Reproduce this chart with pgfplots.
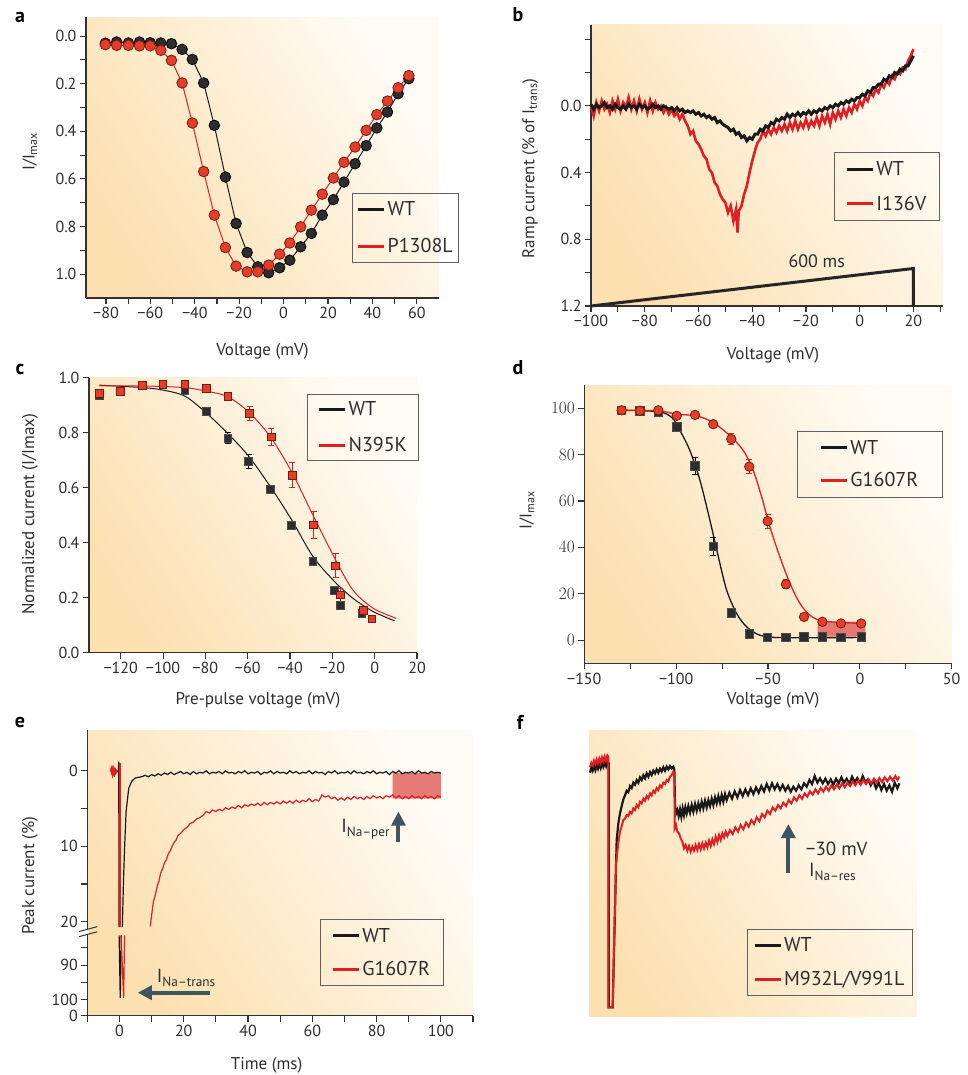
\documentclass[border=0pt]{standalone}
\usepackage{fontspec}
\setmainfont{PT Sans}
\usepackage{pgfplots}
\pgfplotsset{compat=1.18}
\usetikzlibrary{arrows.meta}
\definecolor{bgor}{RGB}{252,224,176}
\definecolor{bgwhite}{RGB}{255,252,246}
\definecolor{axcol}{RGB}{50,50,50}
\definecolor{txtcol}{RGB}{45,45,45}
\definecolor{wtred}{RGB}{224,30,36}
\definecolor{wtblack}{RGB}{25,25,25}
\definecolor{arrowcol}{RGB}{62,84,96}
\definecolor{dotred}{RGB}{228,62,42}
\definecolor{dotredline}{RGB}{120,25,15}
\definecolor{dotblack}{RGB}{45,45,45}
\definecolor{boxred}{RGB}{226,100,96}

\pgfplotsset{
  panel/.style={
    scale only axis, clip=false, anchor=south west,
    axis x line*=bottom, axis y line*=left,
    axis line style={line width=1.1pt, axcol, -},
    tick style={line width=1.1pt, axcol},
    tick align=outside, major tick length=6pt, minor tick length=6pt,
    tick label style={font=\fontsize{16}{18}\selectfont, txtcol},
    label style={font=\fontsize{17}{20}\selectfont, txtcol},
    xlabel style={anchor=center}, ylabel style={anchor=center},
    axis background/.style={shade, top color=bgwhite, bottom color=bgor, shading angle=-58},
    legend style={draw=gray!75!black, line width=0.9pt, fill=none,
      font=\fontsize{20}{24}\selectfont, text=txtcol,
      inner xsep=4pt, inner ysep=6.5pt, row sep=15pt, cells={anchor=west}},
    legend image code/.code={\draw[#1, line width=3pt] (0pt,0pt) -- (26pt,0pt);},
  },
  ebars/.style={error bars/.cd, y dir=both, y explicit,
    error bar style={line width=1pt, #1},
    error mark options={rotate=90, mark size=3pt, line width=1pt, #1}},
}

\begin{document}
\begin{tikzpicture}
\path[use as bounding box] (0pt,0pt) rectangle (968pt,-1075pt);

% panel letters
\begin{scope}[font=\bfseries\fontsize{20}{22}\selectfont]
\node at (20pt,-17pt) {a};
\node at (518pt,-15pt) {b};
\node at (20pt,-369pt) {c};
\node at (518pt,-368pt) {d};
\node at (20pt,-722pt) {e};
\node at (520pt,-722pt) {f};
\end{scope}

% ---------------- a
\begin{axis}[panel, at={(86pt,-298pt)}, width=353pt, height=281pt,
  xmin=-89, xmax=70, ymin=-0.08, ymax=1.1, y dir=reverse,
  xtick={-80,-60,-40,-20,0,20,40,60}, xticklabels={−80,−60,−40,−20,0,20,40,60},
  minor x tick num=1,
  ytick={0,0.2,0.4,0.6,0.8,1}, yticklabels={0.0,0.2,0.4,0.6,0.8,1.0},
  minor y tick num=1,
  ylabel={I/I\textsubscript{max}}, ylabel style={at={(axis description cs:-0.159,0.52)}},
  xlabel={Voltage (mV)}, xlabel style={at={(axis description cs:0.5,-0.19)}},
  legend style={at={(axis description cs:0.754,0.374)}, anchor=north west,
    row sep=17pt, inner ysep=6.6pt}]
\addplot[forget plot, wtblack, line width=1pt, mark=*, mark size=5.3pt,
  mark options={fill=dotblack, draw=black, line width=0.8pt}] coordinates {
(-80.3,0.030) (-75.2,0.025) (-69.9,0.029) (-64.9,0.025) (-60.1,0.028) (-55.3,0.029)
(-50.5,0.032) (-45.7,0.056) (-41.1,0.098) (-36.0,0.197) (-31.2,0.375) (-26.2,0.592)
(-21.4,0.787) (-16.4,0.909) (-11.6,0.969) (-6.7,0.994) (-1.8,0.973) (2.8,0.941)
(7.7,0.885) (12.5,0.829) (17.4,0.752) (22.4,0.687) (27.2,0.613) (32.2,0.536)
(37.2,0.460) (42.0,0.386) (46.8,0.319) (51.6,0.242) (56.4,0.179)};
\addplot[forget plot, wtred, line width=1pt, mark=*, mark size=5.3pt,
  mark options={fill=dotred, draw=dotredline, line width=0.8pt}] coordinates {
(-80.3,0.036) (-75.2,0.039) (-69.9,0.039) (-64.9,0.041) (-60.1,0.041) (-55.3,0.060)
(-50.5,0.102) (-45.7,0.197) (-41.1,0.365) (-36.0,0.569) (-31.2,0.752) (-26.2,0.888)
(-21.4,0.966) (-16.4,0.990) (-11.6,0.990) (-6.7,0.962) (-1.8,0.916) (2.8,0.869)
(7.7,0.801) (12.5,0.731) (17.4,0.664) (22.4,0.596) (27.2,0.530) (32.2,0.466)
(37.2,0.396) (42.0,0.330) (46.8,0.273) (51.6,0.217) (56.4,0.166)};
\addlegendimage{wtblack}\addlegendentry{WT}
\addlegendimage{wtred}\addlegendentry{P1308L}
\end{axis}

% ---------------- b
\begin{axis}[panel, at={(591pt,-306pt)}, width=352pt, height=281pt,
  xmin=-100, xmax=31, ymin=-0.485, ymax=1.2, y dir=reverse,
  xtick={-100,-90,...,30}, xticklabels={−100,,−80,,−60,,−40,,−20,,0,,20,},
  ytick={-0.4,-0.2,0,0.2,0.4,0.6,0.8,1.0,1.2}, yticklabels={,,0.0,,0.4,,0.8,,1.2},
  ylabel={Ramp current (\% of I\textsubscript{trans})},
  ylabel style={at={(axis description cs:-0.173,0.49)}},
  xlabel={Voltage (mV)}, xlabel style={at={(axis description cs:0.517,-0.174)}},
  legend style={at={(axis description cs:0.690,0.548)}, anchor=north west,
    inner xsep=11pt, row sep=15pt, inner ysep=7pt}]
\addplot[forget plot, wtred, line width=2.6pt] coordinates {
(-100,0.0) (-99,0.06) (-98,-0.02) (-97,0.03) (-96,-0.03) (-95,0.02) (-94,-0.01) (-93,0.04)
(-92,-0.03) (-91,0.02) (-90,-0.04) (-89,0.03) (-88,-0.02) (-87,0.01) (-86,-0.05) (-85,0.02)
(-84,-0.03) (-83,0.03) (-82,-0.04) (-81,0.02) (-80,-0.02) (-79,0.04) (-78,-0.03) (-77,0.03)
(-76,-0.02) (-75,0.02) (-74,0.0) (-73,0.04) (-72,0.01) (-71,0.05) (-70,0.02) (-69,0.06)
(-68,0.04) (-67,0.08) (-66,0.05) (-65,0.09) (-64,0.12) (-63,0.17) (-62,0.15) (-61,0.21)
(-60,0.23) (-59,0.26) (-58,0.30) (-57,0.32) (-56,0.38) (-55,0.40) (-54,0.46) (-53,0.48)
(-52,0.53) (-51,0.56) (-50,0.58) (-49,0.64) (-48,0.60) (-47,0.69) (-46,0.62) (-45.5,0.76)
(-45,0.63) (-44,0.60) (-43,0.53) (-42,0.48) (-41,0.40) (-40,0.33) (-39,0.27) (-38,0.22)
(-37,0.20) (-36,0.15) (-35,0.18) (-34,0.14) (-33,0.17) (-32,0.13) (-31,0.16) (-30,0.12)
(-29,0.15) (-28,0.11) (-27,0.15) (-26,0.10) (-25,0.14) (-24,0.09) (-23,0.14) (-22,0.10)
(-21,0.13) (-20,0.08) (-19,0.13) (-18,0.09) (-17,0.12) (-16,0.07) (-15,0.12) (-14,0.06)
(-13,0.10) (-12,0.05) (-11,0.11) (-10,0.04) (-9,0.08) (-8,0.03) (-7,0.07) (-6,0.02)
(-5,0.06) (-4,0.01) (-3,0.04) (-2,-0.01) (-1,0.02) (0,-0.03) (1,0.0) (2,-0.05)
(3,-0.03) (4,-0.08) (5,-0.06) (6,-0.10) (7,-0.08) (8,-0.13) (9,-0.11) (10,-0.15)
(11,-0.13) (12,-0.18) (13,-0.16) (14,-0.20) (15,-0.19) (16,-0.23) (17,-0.22) (18,-0.27)
(19,-0.30) (20,-0.34)};
\addplot[forget plot, wtblack, line width=3pt] coordinates {
(-100,-0.01) (-99,0.02) (-98,-0.01) (-97,0.01) (-96,0.0) (-95,-0.02) (-94,0.01) (-93,0.0)
(-92,0.02) (-91,-0.01) (-90,0.01) (-89,0.02) (-88,0.0) (-87,0.02) (-86,-0.01) (-85,0.01)
(-84,0.0) (-83,0.02) (-82,-0.01) (-81,0.01) (-80,0.0) (-79,0.02) (-78,0.01) (-77,-0.01)
(-76,0.01) (-75,0.0) (-74,0.02) (-73,0.0) (-72,0.01) (-71,0.02) (-70,0.01) (-69,0.03)
(-68,0.01) (-67,0.03) (-66,0.02) (-65,0.04) (-64,0.03) (-63,0.04) (-62,0.03) (-61,0.05)
(-60,0.04) (-59,0.06) (-58,0.05) (-57,0.07) (-56,0.06) (-55,0.08) (-54,0.07) (-53,0.10)
(-52,0.09) (-51,0.11) (-50,0.12) (-49,0.13) (-48,0.15) (-47,0.14) (-46,0.17) (-45,0.16)
(-44,0.19) (-43,0.18) (-42,0.21) (-41,0.19) (-40,0.20) (-39,0.17) (-38,0.17) (-37,0.14)
(-36,0.15) (-35,0.12) (-34,0.13) (-33,0.10) (-32,0.11) (-31,0.08) (-30,0.09) (-29,0.07)
(-28,0.08) (-27,0.05) (-26,0.07) (-25,0.05) (-24,0.06) (-23,0.04) (-22,0.06) (-21,0.04)
(-20,0.05) (-19,0.03) (-18,0.05) (-17,0.03) (-16,0.04) (-15,0.02) (-14,0.03) (-13,0.01)
(-12,0.02) (-11,0.0) (-10,0.01) (-9,-0.01) (-8,0.0) (-7,-0.02) (-6,-0.01) (-5,-0.03)
(-4,-0.02) (-3,-0.04) (-2,-0.03) (-1,-0.05) (0,-0.05) (1,-0.07) (2,-0.06) (3,-0.09)
(4,-0.08) (5,-0.11) (6,-0.11) (7,-0.13) (8,-0.13) (9,-0.16) (10,-0.15) (11,-0.18)
(12,-0.17) (13,-0.20) (14,-0.19) (15,-0.22) (16,-0.21) (17,-0.24) (18,-0.24) (19,-0.27)
(20,-0.30)};
\addplot[forget plot, black!85, line width=3pt] coordinates {(-100,1.2) (20,0.975) (20,1.2)};
\node[anchor=south, font=\fontsize{18}{20}\selectfont, txtcol] at (axis cs:-16,0.99) {600 ms};
\addlegendimage{wtblack}\addlegendentry{WT}
\addlegendimage{wtred}\addlegendentry{I136V}
\end{axis}

% ---------------- c
\begin{axis}[panel, at={(89pt,-652.7pt)}, width=328pt, height=275pt,
  xmin=-135, xmax=20, ymin=0, ymax=1,
  xtick={-120,-100,-80,-60,-40,-20,0,20}, xticklabels={−120,−100,−80,−60,−40,−20,0,20},
  ytick={0,0.2,0.4,0.6,0.8,1}, yticklabels={0.0,0.2,0.4,0.6,0.8,1.0},
  ylabel={Normalized current (I/Imax)}, ylabel style={at={(axis description cs:-0.18,0.504)}},
  xlabel={Pre-pulse voltage (mV)}, xlabel style={at={(axis description cs:0.515,-0.172)}},
  legend style={at={(axis description cs:0.665,0.941)}, anchor=north west,
    inner xsep=10pt, row sep=16pt, inner ysep=5.4pt}]
\addplot[forget plot, wtblack, line width=1pt, smooth] coordinates {
(-130.1,0.973) (-109.6,0.964) (-100.1,0.955) (-89.7,0.933) (-79.6,0.872) (-69.4,0.797)
(-59.5,0.714) (-49.4,0.605) (-39.3,0.484) (-29.2,0.350) (-19.0,0.259) (-10.3,0.198)
(-0.8,0.150) (9.4,0.116)};
\addplot[forget plot, wtred, line width=1pt, smooth] coordinates {
(-130.1,0.970) (-109.6,0.970) (-89.7,0.964) (-79.6,0.951) (-69.4,0.931) (-59.1,0.872)
(-48.9,0.781) (-39.0,0.654) (-28.9,0.496) (-18.5,0.338) (-10.3,0.228) (-0.8,0.162)
(10.2,0.125)};
\addplot[forget plot, only marks, mark=square*, mark size=3.9pt,
  mark options={fill=dotblack, draw=gray!60!black, line width=0.8pt},
  ebars=black] coordinates {
(-130.1,0.936) (-120,0.951) (-109.6,0.972) (-100.1,0.976) (-89.7,0.955) (-79.6,0.878)
(-69.4,0.779) +- (0,0.02) (-59.5,0.696) +- (0,0.025) (-49.4,0.593) (-39.3,0.462) +- (0,0.015)
(-29.2,0.332) (-19.0,0.228) (-16.3,0.171) (-6.0,0.143) (-1.3,0.123)};
\addplot[forget plot, only marks, mark=square*, mark size=3.9pt,
  mark options={fill=dotred, draw=dotredline, line width=0.8pt},
  ebars=wtred] coordinates {
(-130.1,0.943) (-120,0.951) (-109.6,0.972) (-100.1,0.976) (-89.7,0.976) (-79.6,0.960)
(-69.4,0.931) (-59.1,0.870) +- (0,0.025) (-48.9,0.785) +- (0,0.03) (-39.0,0.645) +- (0,0.045)
(-28.9,0.465) +- (0,0.05) (-18.5,0.316) +- (0,0.043) (-16.3,0.210) +- (0,0.025)
(-5.5,0.153) +- (0,0.01) (-1.3,0.123)};
\addlegendimage{wtblack}\addlegendentry{WT}
\addlegendimage{wtred}\addlegendentry{N395K}
\end{axis}

% ---------------- d
\begin{axis}[panel, at={(584.3pt,-663.3pt)}, width=367.4pt, height=278.3pt,
  xmin=-150, xmax=50, ymin=-10, ymax=110,
  xtick={-150,-125,...,50}, xticklabels={−150,,−100,,−50,,0,,50},
  ytick={0,20,...,100},
  ylabel={I/I\textsubscript{max}}, ylabel style={at={(axis description cs:-0.156,0.55)}},
  xlabel={Voltage (mV)}, xlabel style={at={(axis description cs:0.514,-0.132)}},
  legend style={at={(axis description cs:0.579,0.835)}, anchor=north west,
    inner xsep=22pt, row sep=13pt, inner ysep=6.8pt}]
\addplot[forget plot, fill=boxred, fill opacity=0.85, draw=none] coordinates {
(-23,1.5) (3,1.5) (3,8) (-23,8) (-23,1.5)};
\addplot[forget plot, wtblack, line width=1.3pt, smooth] coordinates {
(-129.7,99.1) (-109.7,98.5) (-102.4,96.0) (-97.9,90.3) (-92.5,81.7) (-87.0,68.8)
(-81.6,51.6) (-77.0,35.8) (-72.5,21.5) (-67.1,11.5) (-61.6,5.7) (-54.4,2.1)
(-43.5,1.1) (0.7,1.1)};
\addplot[forget plot, wtred, line width=1.3pt, smooth] coordinates {
(-129.7,99.1) (-109.7,98.9) (-99.7,97.4) (-88.8,96.7) (-79.8,93.8) (-70.7,88.1)
(-63.4,81.7) (-58.0,73.1) (-53.4,61.6) (-48.9,48.7) (-43.5,35.8) (-38.0,24.4)
(-32.6,15.8) (-27.1,10.7) (-19.9,8.2) (0.7,7.2)};
\addplot[forget plot, only marks, mark=square*, mark size=4.2pt,
  mark options={fill=dotblack, draw=gray!60!black, line width=0.8pt},
  ebars=black] coordinates {
(-129.7,99.1) (-119.7,98.9) (-109.7,98.1) (-99.7,92.0) (-89.7,75.2) +- (0,3.6)
(-79.8,40.4) +- (0,3.7) (-70.0,11.7) (-60.2,2.6) (-50.2,1.1) (-40.2,1.1) (-30.4,1.4)
(-20.4,1.4) (-10.3,1.1) (0.7,1.4)};
\addplot[forget plot, only marks, mark=*, mark size=4.7pt,
  mark options={fill=dotred, draw=dotredline, line width=0.8pt},
  ebars=wtred] coordinates {
(-129.7,99.1) (-119.7,98.9) (-109.7,99.1) (-99.7,96.7) (-89.7,97.1) (-79.8,93.1)
(-70.0,86.7) +- (0,2.5) (-60.2,74.8) +- (0,3) (-50.2,51.3) +- (0,3) (-40.2,24.1) +- (0,2)
(-30.4,10.0) (-20.4,7.9) (-10.3,7.2) (0.7,7.2)};
\addlegendimage{wtblack}\addlegendentry{WT}
\addlegendimage{wtred}\addlegendentry{G1607R}
\end{axis}

% ---------------- e
\begin{axis}[panel, at={(87.3pt,-1015.7pt)}, width=385.7pt, height=285.7pt,
  xmin=-10, xmax=110, ymin=-5.4, ymax=32.45, y dir=reverse,
  xtick={-10,0,...,110}, xticklabels={,0,,20,,40,,60,,80,,100,},
  ytick={0,5,10,15,20,23.46,25.74,28.02,30.29,32.45},
  yticklabels={0,,10,,20,,90,,100,0},
  ylabel={Peak current (\%)}, ylabel style={at={(axis description cs:-0.149,0.49)}},
  xlabel={Time (ms)}, xlabel style={at={(axis description cs:0.465,-0.173)}},
  legend style={at={(axis description cs:0.603,0.338)}, anchor=north west,
    inner xsep=11pt, row sep=14pt, inner ysep=6.4pt}]
\addplot[forget plot, fill=boxred, fill opacity=0.85, draw=none] coordinates {
(85,0.3) (100,0.3) (100,3.7) (85,3.7) (85,0.3)};
% WT
\addplot[forget plot, wtblack, line width=1.2pt] coordinates {
(-2.6,0.0) (-2.3,0.4) (-2.0,-0.2) (-1.7,0.3) (-1.4,-0.1) (-1.1,0.3) (-0.8,0.0)
(-0.3,0.2) (-0.2,-1.2) (-0.15,20.7)};
\addplot[forget plot, wtblack, line width=1.2pt] coordinates {
(-0.1,21.8) (0.25,30.1) (0.6,21.8)};
\addplot[forget plot, wtblack, line width=1.2pt] coordinates {
(0.9,20.7) (1.3,14) (1.64,9.8) (2.07,5.4) (2.9,2.3) (3.9,1.35) (4.9,0.96) (7,0.78)
(8,0.6) (9,0.8) (10,0.5) (11,0.7) (12,0.4) (13,0.6) (14,0.3) (15,0.5) (16,0.2) (17,0.5)
(18,0.3) (19,0.1) (20,0.4) (21,0.2) (22,0.5) (23,0.1) (24,0.4) (25,0.2) (26,0.3) (27,0.0)
(28,0.4) (29,0.2) (30,0.3) (31,0.1) (32,0.4) (33,0.0) (34,0.3) (35,0.2) (36,0.4) (37,0.1)
(38,0.3) (39,0.0) (40,0.4) (41,0.2) (42,0.3) (43,0.1) (44,0.5) (45,0.2) (46,0.3) (47,0.0)
(48,0.4) (49,0.1) (50,0.3) (51,0.2) (52,0.4) (53,0.0) (54,0.3) (55,0.1) (56,0.4) (57,0.2)
(58,0.3) (59,0.0) (60,0.4) (61,0.1) (62,0.3) (63,0.2) (64,0.5) (65,0.1) (66,0.3) (67,0.0)
(68,0.4) (69,0.2) (70,0.3) (71,0.1) (72,0.4) (73,0.0) (74,0.3) (75,0.2) (76,0.4) (77,0.1)
(78,0.3) (79,0.0) (80,0.4) (81,0.2) (82,0.3) (83,0.1) (84,0.5) (85,0.1) (86,0.3) (87,0.0)
(88,0.4) (89,0.2) (90,0.3) (91,0.1) (92,0.4) (93,0.0) (94,0.3) (95,0.2) (96,0.4) (97,0.1)
(98,0.3) (99,0.2) (100,0.3)};
% G1607R
\addplot[forget plot, wtred, line width=3pt] coordinates {
(-2.7,0.1) (-2.4,-0.2) (-2.1,0.3) (-1.8,-0.1) (-1.5,0.3) (-1.2,0.0) (-0.9,0.2)};
\addplot[forget plot, wtred, line width=1.2pt] coordinates {
(0.2,-1.0) (0.2,20.7)};
\addplot[forget plot, wtred, line width=1.2pt] coordinates {
(0.5,21.8) (1.3,30.1) (1.6,21.8)};
\addplot[forget plot, wtred, line width=1.2pt] coordinates {
(9.6,20.6) (10.2,18.5) (10.6,17.3) (11.2,16.4) (11.8,15.2) (12.3,14.6) (12.8,13.6)
(13.4,13.0) (14.0,12.2) (14.6,11.8) (15.2,11.0) (15.8,10.6) (16.4,10.0) (17.0,9.5)
(17.6,9.2) (18.2,8.6) (19,8.3) (20,7.8) (21,7.5) (22,7.0) (23,6.8) (24,6.4) (25,6.2)
(26,5.9) (27,5.4) (28,5.6) (29,5.2) (30,5.4) (31,5.1) (32,5.3) (33,4.9) (34,5.1)
(35,4.8) (36,5.0) (37,4.6) (38,4.9) (39,4.5) (40,4.7) (41,4.4) (42,4.6) (43,4.3)
(44,4.6) (45,4.2) (46,4.5) (47,4.2) (48,4.4) (49,4.1) (50,4.4) (51,4.0) (52,4.3)
(53,4.0) (54,4.3) (55,3.9) (56,4.2) (57,3.9) (58,4.1) (59,3.7) (60,4.1) (61,3.8)
(62,4.0) (63,3.2) (64,3.5) (65,3.3) (66,3.7) (67,3.5) (68,3.9) (69,3.6) (70,3.9)
(71,3.5) (72,3.8) (73,3.4) (74,3.7) (75,3.5) (76,3.8) (77,3.4) (78,3.7) (79,3.3)
(80,3.6) (81,3.4) (82,3.7) (83,3.3) (84,3.5) (85,3.2) (86,3.6) (87,3.3) (88,3.7)
(89,3.4) (90,3.7) (91,3.3) (92,3.6) (93,3.4) (94,3.7) (95,3.3) (96,3.6) (97,3.4)
(98,3.7) (99,3.3) (100,3.5)};
% axis break
\draw[white, line width=4pt] (axis cs:-10,20.95) -- (axis cs:-10,21.75);
\draw[axcol, line width=1pt] (axis cs:-12.6,21.3) -- (axis cs:-6.9,20.65);
\draw[axcol, line width=1pt] (axis cs:-12.6,21.98) -- (axis cs:-6.9,21.33);
% arrows
\draw[arrowcol, line width=4pt, -{Triangle[width=14pt,length=14pt]}]
  (axis cs:86.8,9.39) -- (axis cs:86.8,5.42);
\draw[arrowcol, line width=4pt, -{Triangle[width=14pt,length=14pt]}]
  (axis cs:28.3,29.4) -- (axis cs:5.7,29.4);
\node[anchor=base east, font=\fontsize{19}{20}\selectfont, txtcol, inner sep=0pt]
  at (axis cs:84.3,8.2) {I\textsubscript{Na–per}};
\node[anchor=base west, font=\fontsize{19}{20}\selectfont, txtcol, inner sep=0pt]
  at (axis cs:11.6,28.1) {I\textsubscript{Na–trans}};
\addlegendimage{wtblack}\addlegendentry{WT}
\addlegendimage{wtred}\addlegendentry{G1607R}
\end{axis}

% ---------------- f
\shade[top color=bgwhite, bottom color=bgor, shading angle=-58]
  (589pt,-730pt) rectangle (916.7pt,-1016.7pt);
\begin{axis}[panel, hide axis, at={(589pt,-1016.7pt)}, width=327.7pt, height=286.7pt,
  xmin=87, xmax=1070, ymin=30, ymax=890, y dir=reverse,
  legend style={at={(axis description cs:0.481,0.306)}, anchor=north west,
    inner xsep=6pt, row sep=14pt, inner ysep=6.4pt}]
\addplot[forget plot, wtblack, line width=2.2pt] coordinates {
(90,158) (94,142) (98,152) (102,138) (106,150) (110,134) (114,146) (118,132) (122,144)
(126,128) (130,140) (134,126) (138,138) (142,122) (146,130) (146,862) (158,862)
(170,360) (175,310) (180,280) (185,258) (190,238) (195,226) (200,212) (205,216)
(210,198) (215,204) (220,188) (225,194) (230,180) (235,188) (240,172) (245,180)
(250,166) (255,175) (260,160) (265,170) (270,156) (275,165) (280,152) (285,160)
(290,148) (295,158) (300,146) (305,154) (310,142) (315,152) (320,140) (325,148)
(330,138) (335,145) (340,140) (343,150) (345,255) (348,280) (352,270) (356,288)
(360,268) (364,290) (368,265) (372,285) (376,262) (380,280) (385,258) (390,278)
(395,255) (400,275) (405,252) (410,272) (415,250) (420,268) (425,245) (430,265)
(435,242) (440,262) (445,240) (450,258) (455,236) (460,255) (465,232) (470,250)
(475,228) (480,248) (485,225) (490,245) (495,222) (500,240) (508,218) (516,236)
(524,214) (532,232) (540,210) (548,228) (556,208) (564,225) (572,205) (580,222)
(588,202) (596,218) (604,198) (612,214) (620,192) (628,210) (636,190) (644,208)
(652,192) (660,210) (668,195) (676,212) (684,198) (692,215) (700,200) (708,212)
(716,196) (724,208) (732,190) (740,200) (748,180) (756,192) (764,168) (772,188)
(780,175) (788,190) (796,176) (804,192) (812,178) (820,194) (828,176) (836,190)
(844,172) (852,188) (860,176) (868,192) (876,170) (884,186) (892,174) (900,190)
(908,168) (916,186) (924,178) (932,196) (940,182) (948,205) (956,188) (964,210)
(972,192) (980,212) (988,196) (996,215) (1004,188) (1012,205) (1018,190)};
\addplot[forget plot, wtred, line width=2pt] coordinates {
(90,142) (94,128) (98,136) (102,122) (106,132) (110,118) (114,130) (118,116) (122,128)
(126,112) (130,124) (134,110) (138,122) (142,106) (145,110) (145,862) (158,862)
(163,640) (168,430) (172,395) (176,360) (180,335) (185,318) (190,300) (195,296)
(200,285) (205,288) (210,275) (215,280) (220,265) (225,270) (230,255) (235,262)
(240,245) (245,250) (250,236) (255,242) (260,228) (265,235) (270,220) (275,226)
(280,212) (285,218) (290,204) (295,210) (300,196) (305,202) (310,188) (315,192)
(320,180) (325,184) (330,170) (335,165) (340,155) (343,160) (344,325) (348,315)
(352,335) (357,340) (362,355) (367,365) (372,385) (377,375) (382,392) (387,378)
(392,395) (397,380) (402,392) (407,375) (412,390) (417,372) (422,388) (427,370)
(432,385) (437,368) (442,382) (447,362) (452,378) (457,358) (462,372) (467,350)
(472,366) (477,345) (482,360) (487,340) (492,352) (497,335) (502,348) (510,330)
(518,342) (526,322) (534,335) (542,315) (550,328) (558,308) (566,320) (574,300)
(582,312) (590,292) (598,304) (606,282) (614,292) (622,272) (630,282) (638,262)
(646,272) (654,255) (662,265) (670,248) (678,258) (686,240) (694,250) (702,232)
(710,242) (718,226) (726,236) (734,220) (742,230) (750,214) (758,224) (766,208)
(774,220) (782,204) (790,215) (798,200) (806,212) (814,196) (822,208) (830,194)
(838,205) (846,190) (854,202) (862,188) (870,198) (878,185) (886,196) (894,182)
(902,194) (910,180) (918,192) (926,178) (934,190) (942,176) (950,188) (958,174)
(966,186) (974,172) (982,184) (990,170) (998,182) (1006,168) (1012,180) (1018,170)};
\draw[arrowcol, line width=4pt, -{Triangle[width=14pt,length=14pt]}]
  (axis cs:685,460) -- (axis cs:685,312);
\node[font=\fontsize{19}{20}\selectfont, txtcol] at (axis cs:830,385) {−30 mV};
\node[font=\fontsize{19}{20}\selectfont, txtcol] at (axis cs:818,455) {I\textsubscript{Na–res}};
\addlegendimage{wtblack}\addlegendentry{WT}
\addlegendimage{wtred}\addlegendentry{M932L/V991L}
\end{axis}
\end{tikzpicture}
\end{document}
